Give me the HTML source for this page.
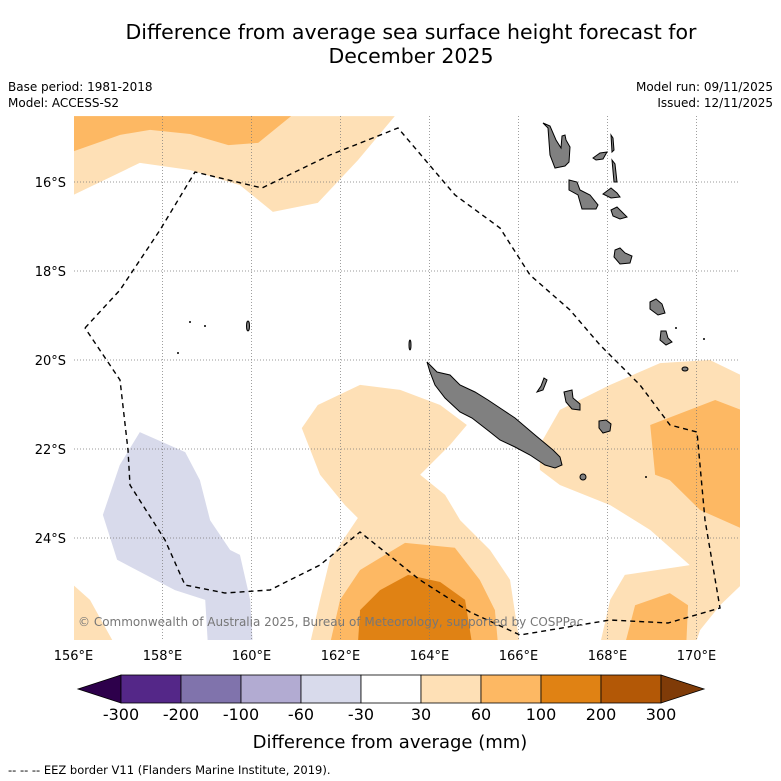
<!DOCTYPE html>
<html><head><meta charset="utf-8"><style>
body{margin:0;background:#fff;width:781px;height:781px;overflow:hidden;font-family:"DejaVu Sans",sans-serif}
svg{display:block}
</style></head><body>
<svg id="chart" width="781" height="781" viewBox="0 0 781 781" xmlns="http://www.w3.org/2000/svg" font-family="DejaVu Sans, sans-serif">
<text x="411" y="39" font-size="20.5" text-anchor="middle">Difference from average sea surface height forecast for</text>
<text x="411" y="63" font-size="20.5" text-anchor="middle">December 2025</text>
<text x="8" y="91" font-size="12">Base period: 1981-2018</text>
<text x="8" y="107" font-size="12">Model: ACCESS-S2</text>
<text x="773" y="91" font-size="12" text-anchor="end">Model run: 09/11/2025</text>
<text x="773" y="107" font-size="12" text-anchor="end">Issued: 12/11/2025</text>
<defs><clipPath id="mapclip"><rect x="74" y="116" width="666" height="524"/></clipPath></defs>
<g id="map" clip-path="url(#mapclip)">
<g id="contours"></g>
<g id="grid"></g>
<g fill="#808080" stroke="#000" stroke-width="1">
<polygon points="427,362 437,372 450,375 460,385 475,392 488,400 500,408 515,418 535,435 553,450 560,457 562,465 555,468 545,465 530,455 515,447 500,440 490,432 472,418 460,412 445,398 435,385 430,372"/>
<polygon points="564,392 572,390 573,398 580,404 580,410 572,409 566,402"/>
<polygon points="599,421 606,420 611,424 610,431 603,433 599,428"/>
<polygon points="544,378 547,380 543,390 537,392 541,386"/>
<ellipse cx="583" cy="477" rx="3" ry="3"/>
<polygon points="543,123 548,128 550,155 555,168 565,166 569,162 570,147 566,140 565,135 562,136 561,148 556,140 550,126"/>
<polygon points="569,180 577,182 580,190 590,195 598,205 596,209 582,209 578,195 569,190"/>
<polygon points="593,158 600,153 607,152 603,159 596,160"/>
<polygon points="611,135 613,138 614,150 612,152"/>
<polygon points="612,160 615,164 617,182 614,182"/>
<polygon points="603,194 611,188 617,193 620,197 611,198"/>
<polygon points="611,210 617,207 622,212 627,217 620,219 613,216"/>
<polygon points="615,250 620,248 625,253 632,256 630,263 620,264 614,257"/>
<polygon points="650,302 656,299 662,304 665,313 658,315 650,309"/>
<polygon points="661,331 666,331 668,338 672,342 666,345 660,340"/>
<ellipse cx="685" cy="369" rx="3" ry="2"/>
<ellipse cx="248" cy="326" rx="1.5" ry="5"/>
<ellipse cx="410" cy="345" rx="1" ry="5"/>
</g>
<g fill="#000"><circle cx="190" cy="322" r="1"/><circle cx="205" cy="326" r="1"/><circle cx="178" cy="353" r="1"/><circle cx="676" cy="328" r="1"/><circle cx="704" cy="339" r="1"/><circle cx="646" cy="477" r="1"/></g>
<polyline fill="none" stroke="#000" stroke-width="1.4" stroke-dasharray="5,4" points="85,328 120,290 160,230 195,172 262,188 330,155 398,128 455,195 500,228 530,275 570,310 600,345 640,385 670,425 697,432 705,520 720,608 668,623 610,620 520,635 470,612 420,580 360,532 320,565 270,590 225,593 185,585 165,540 130,485 128,450 120,380 85,328"/>
<text x="78" y="626" font-size="12" fill="#777">© Commonwealth of Australia 2025, Bureau of Meteorology, supported by COSPPac</text>
</g>
<g id="axes"></g>
<g id="colorbar"></g>
<text x="390" y="748" font-size="18" text-anchor="middle">Difference from average (mm)</text>
<text x="8" y="774" font-size="11.5">--  --  -- EEZ border V11 (Flanders Marine Institute, 2019).</text>
</svg>
<script>
// colorbar data
const cbTickLabels = ["-300","-200","-100","-60","-30","30","60","100","200","300"];
const cbColors = ["#542788","#8073ac","#b2abd2","#d8daeb","#ffffff","#fee0b6","#fdb863","#e08214","#b35806"];
const cbExtendLow = "#2d004b", cbExtendHigh = "#7f3b08";
// axis ticks
const lonTicks = [156,158,160,162,164,166,168,170];
const latTicks = [16,18,20,22,24];
// contour polygons [lon, latSouth]
const contourLevels = ["30-60","60-100","-60--30","30-60","30-60","60-100","100-200","30-60","60-100","60-100"];
const contourFill = ["#fee0b6","#fdb863","#d8daeb","#fee0b6","#fee0b6","#fdb863","#e08214","#fee0b6","#fdb863","#fdb863"];
const contourPolys = [
 [[156,14.52],[163.22,14.52],[162.39,15.51],[161.49,16.47],[160.48,16.67],[159.74,16.07],[158.62,15.73],[157.49,15.57],[156,16.29]],
 [[156,14.52],[160.89,14.52],[160.15,15.12],[159.48,15.17],[158.62,14.92],[157.72,14.83],[157.05,14.94],[156,15.31]],
 [[157.49,21.62],[158.51,22.07],[158.84,22.70],[159.07,23.60],[159.52,24.27],[159.74,24.38],[159.97,25.39],[160.03,26.4],[159.02,26.4],[158.96,25.39],[158.28,25.17],[156.98,24.49],[156.66,23.48],[157.04,22.36]],
 [[156,25.06],[156.37,25.39],[156.93,26.4],[156,26.4]],
 [[161.49,21.01],[162.44,20.56],[163.34,20.67],[164.24,21.01],[164.84,21.46],[164.46,21.91],[163.79,22.58],[164.35,23.03],[164.69,23.60],[165.36,24.27],[165.81,24.94],[166.03,26.4],[161.31,26.4],[161.54,25.39],[161.76,24.49],[162.39,23.55],[162.10,23.26],[161.54,22.58],[161.13,21.53]],
 [[161.76,26.4],[161.99,25.39],[162.44,24.72],[163.45,24.11],[164.57,24.22],[165.13,24.94],[165.47,25.62],[165.54,26.4]],
 [[162.39,26.4],[162.44,25.62],[162.89,25.17],[163.52,24.83],[164.24,24.99],[164.80,25.39],[164.96,26.4]],
 [[166.48,21.91],[166.93,21.12],[168.06,20.56],[169.18,20.07],[170.30,20.0],[171,20.34],[171,25.06],[170.53,25.51],[170.08,26.07],[169.97,26.4],[167.83,26.4],[168.06,25.39],[168.39,24.83],[169.85,24.61],[168.96,23.82],[168.06,23.26],[166.93,22.81],[166.48,22.47]],
 [[168.96,21.46],[170.42,20.90],[171,21.12],[171,23.78],[170.08,23.37],[169.40,22.70],[169.07,22.58]],
 [[168.39,26.4],[168.62,25.51],[169.40,25.24],[169.81,25.51],[169.77,26.4]]
];
const NS="http://www.w3.org/2000/svg";
const xOf = lon => 73.5 + (lon-156)*44.5;
const yOf = lat => 182 + (lat-16)*44.5;
function mk(t,a,p){const e=document.createElementNS(NS,t);for(const k in a)e.setAttribute(k,a[k]);p.appendChild(e);return e;}
const cg=document.getElementById('contours');
contourPolys.forEach((poly,i)=>{
 const e=mk('polygon',{points:poly.map(p=>xOf(p[0])+','+yOf(p[1])).join(' '),fill:contourFill[i]},cg);
 
 
});
const gg=document.getElementById('grid'), ag=document.getElementById('axes');
lonTicks.forEach(l=>{
 const x=xOf(l);
 const ln=mk('line',{x1:x,x2:x,y1:116,y2:640,stroke:'#777','stroke-width':0.7,'stroke-dasharray':'1,2'},gg);
 
 
 const t=mk('text',{x:x,y:660,'font-size':13,'text-anchor':'middle'},ag);t.textContent=l+'°E';
 
 
});
latTicks.forEach(l=>{
 const y=yOf(l);
 const ln=mk('line',{x1:74,x2:740,y1:y,y2:y,stroke:'#777','stroke-width':0.7,'stroke-dasharray':'1,2'},gg);
 
 
 const t=mk('text',{x:66,y:y+5,'font-size':13,'text-anchor':'end'},ag);t.textContent=l+'°S';
 
 
});
const cb=document.getElementById('colorbar');
const cbX0=121, cbW=60, cbY=675, cbH=28;
let e=mk('polygon',{points:`${cbX0},${cbY} 78,${cbY+cbH/2} ${cbX0},${cbY+cbH}`,fill:cbExtendLow,stroke:'#000','stroke-width':0.8},cb);


cbColors.forEach((c,i)=>{
 const r=mk('rect',{x:cbX0+i*cbW,y:cbY,width:cbW,height:cbH,fill:c,stroke:'#000','stroke-width':0.8},cb);
 
 
});
const xr=cbX0+cbColors.length*cbW;
e=mk('polygon',{points:`${xr},${cbY} ${xr+43},${cbY+cbH/2} ${xr},${cbY+cbH}`,fill:cbExtendHigh,stroke:'#000','stroke-width':0.8},cb);


cbTickLabels.forEach((s,i)=>{
 const t=mk('text',{x:cbX0+i*cbW,y:720,'font-size':16,'text-anchor':'middle'},cb);t.textContent=s;
 
 
});
</script>
</body></html>
